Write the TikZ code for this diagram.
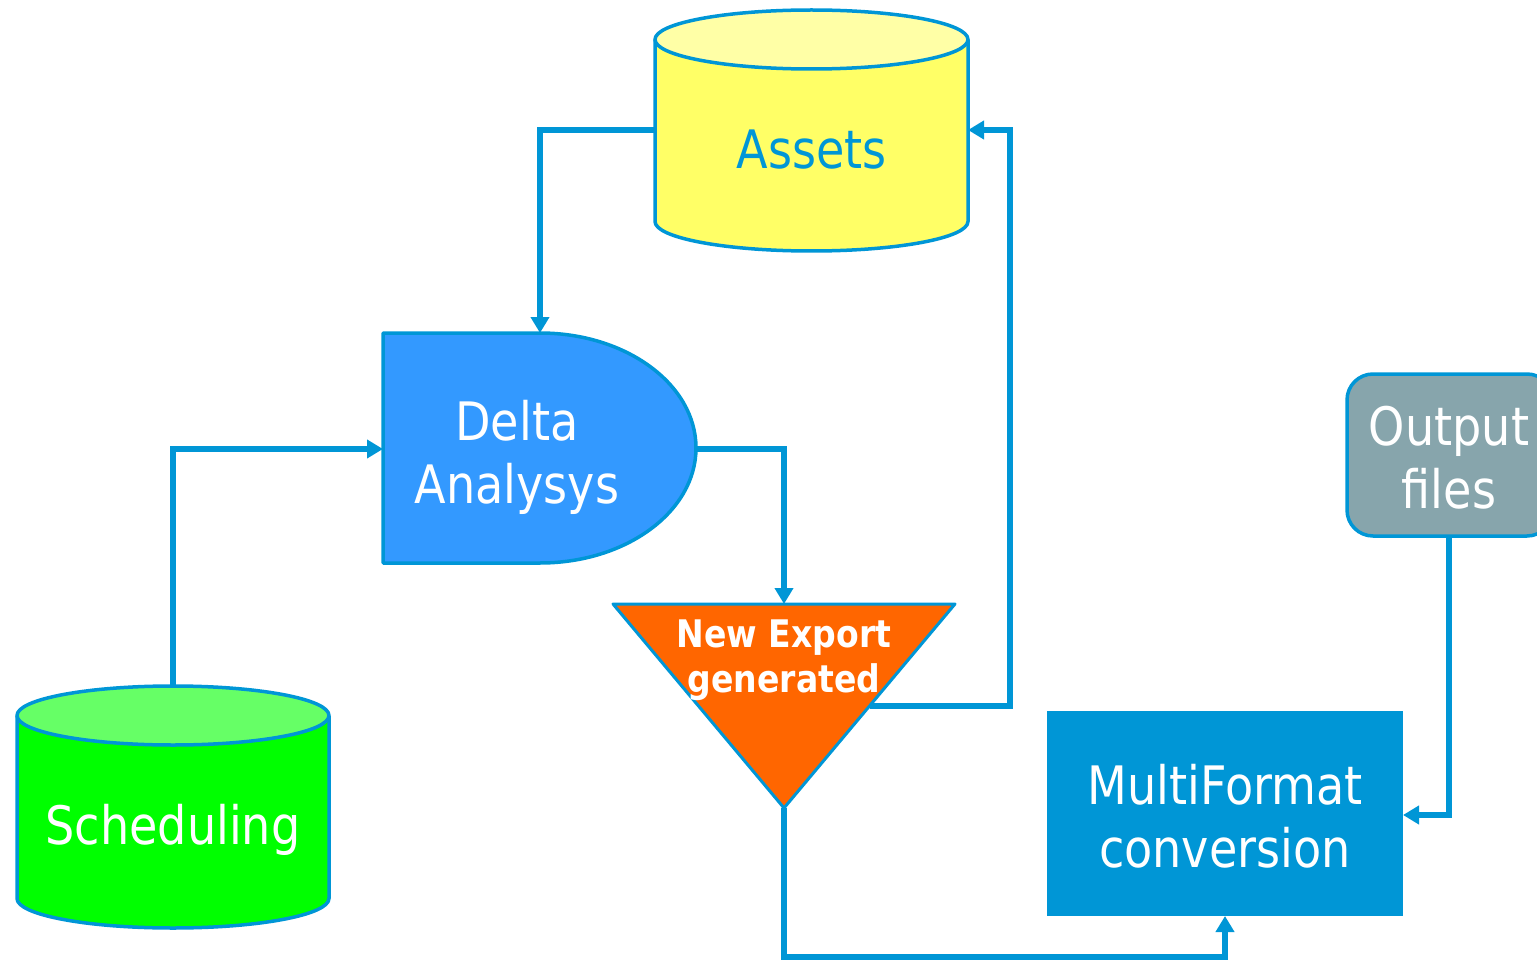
\documentclass[tikz,border=0pt]{standalone}
\usepackage{fontspec}
\setmainfont{DejaVu Sans}[FakeStretch=0.87]
\usetikzlibrary{arrows.meta,calc}
\definecolor{lineblue}{RGB}{0,150,214}
\definecolor{yellowbody}{RGB}{255,255,102}
\definecolor{yellowtop}{RGB}{255,255,166}
\definecolor{greenbody}{RGB}{0,255,0}
\definecolor{greentop}{RGB}{102,255,102}
\definecolor{deltablue}{RGB}{51,153,255}
\definecolor{exportorange}{RGB}{255,102,0}
\definecolor{multiblue}{RGB}{0,150,214}
\definecolor{outgrey}{RGB}{135,165,172}
\tikzset{
  shapeline/.style={draw=lineblue,line width=3.5pt,line join=round},
  conn/.style={draw=lineblue,line width=5.5pt,-{Triangle[length=16pt,width=18pt]}},
  bigtext/.style={align=center,font=\fontsize{53}{63}\selectfont,inner sep=0pt},
  smalltext/.style={align=center,font=\bfseries\fontsize{38}{45}\selectfont,inner sep=0pt,text=white},
}
\begin{document}
\begin{tikzpicture}[x=1pt,y=1pt]
\useasboundingbox (0,0) rectangle (1537,-960);
\clip (0,0) rectangle (1537,-960);
% Assets cylinder
\path[fill=yellowbody] (655,-39.5) -- (655,-221.5) arc (180:360:156.5 and 29.5) -- (968,-39.5) -- cycle;
\draw[shapeline] (655,-39.5) -- (655,-221.5) arc (180:360:156.5 and 29.5) -- (968,-39.5);
\draw[shapeline,fill=yellowtop] (811.5,-39.5) ellipse (156.5 and 29.5);
\node[bigtext,text=lineblue] (assets) at (811.5,-150) {Assets};
\coordinate (assets-w) at (655,-130);
\coordinate (assets-e) at (968,-130);
% Scheduling cylinder
\path[fill=greenbody] (17,-715.5) -- (17,-898.5) arc (180:360:156 and 29.5) -- (329,-715.5) -- cycle;
\draw[shapeline] (17,-715.5) -- (17,-898.5) arc (180:360:156 and 29.5) -- (329,-715.5);
\draw[shapeline,fill=greentop] (173,-715.5) ellipse (156 and 29.5);
\node[bigtext,text=white] (sched) at (173,-830) {Scheduling};
\coordinate (sched-n) at (173,-686);
% Delta Analysys
\draw[shapeline,fill=deltablue] (383,-333) -- (540,-333) arc (90:-90:156 and 115) -- (383,-563) -- cycle;
\node[bigtext,text=white] (delta) at (517,-457) {Delta\\Analysys};
\coordinate (delta-n) at (540,-333);
\coordinate (delta-w) at (383,-449);
\coordinate (delta-e) at (696,-449);
% New Export triangle
\draw[shapeline,line width=3pt,fill=exportorange] (613,-604) -- (955,-604) -- (784,-808) -- cycle;
\node[smalltext] (export) at (784,-660) {New Export\\generated};
\coordinate (tri-n) at (784,-604);
\coordinate (tri-r) at (869.5,-706);
\coordinate (tri-s) at (784,-808);
% MultiFormat conversion
\path[fill=multiblue] (1047,-711) rectangle (1403,-916);
\node[bigtext,text=white] (multi) at (1225,-816) {MultiFormat\\conversion};
\coordinate (multi-s) at (1225,-916);
\coordinate (multi-e) at (1403,-815);
% Output files
\draw[shapeline,fill=outgrey,rounded corners=26pt] (1347,-374) rectangle (1553,-536);
\node[bigtext,text=white] (output) at (1449,-458) {Output\\files};
\coordinate (out-s) at (1449,-536);
% bends
\coordinate (bend4) at (1010,-706);
\coordinate (bend5) at (784,-957);
% connectors
\draw[conn] (assets-w) -| (delta-n);
\draw[conn] (sched-n) |- (delta-w);
\draw[conn] (delta-e) -| (tri-n);
\draw[conn] (tri-r) -- (bend4) |- (assets-e);
\draw[conn] (tri-s) -- (bend5) -| (multi-s);
\draw[conn] (out-s) |- (multi-e);
\end{tikzpicture}
\end{document}
